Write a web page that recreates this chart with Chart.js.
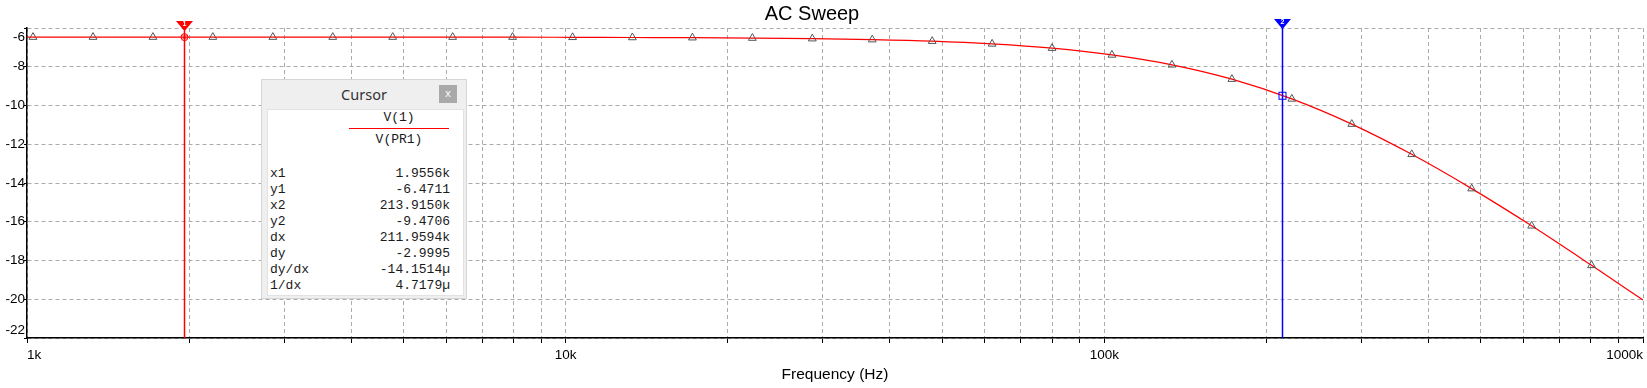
<!DOCTYPE html>
<html><head><meta charset="utf-8">
<script src="https://cdn.jsdelivr.net/npm/chart.js@4.4.1/dist/chart.umd.min.js"></script>
<style>
html,body{margin:0;padding:0;background:#fff;}
#wrap{position:relative;width:1647px;height:388px;overflow:hidden;}
#c{position:absolute;left:0;top:0;}
.abs{position:absolute;white-space:pre;}
.mono{font-family:"Liberation Mono","DejaVu Sans Mono",monospace;font-size:13px;line-height:16px;color:#1a1a1a;}
</style></head><body>
<div id="wrap"><canvas id="c" width="1647" height="388"></canvas><div id="box"></div></div>
<script>
const chartTitle = 'AC Sweep';
const xAxisTitle = 'Frequency (Hz)';
// Trace V(1)/V(PR1) in dB (markers + ends)
const freqHz = [1000, 1026, 1326, 1713, 2213, 2860, 3695, 4774, 6168, 7970,
  10300, 13300, 17190, 22210, 28700, 37080, 47910, 61900, 79980, 103300,
  133500, 172500, 222900, 288000, 372100, 480800, 621200, 802600, 1000000];
const gainDb = [-6.47, -6.47, -6.47, -6.47, -6.47, -6.47, -6.47, -6.47, -6.47, -6.47,
  -6.48, -6.49, -6.50, -6.52, -6.55, -6.60, -6.68, -6.82, -7.04, -7.39,
  -7.90, -8.64, -9.66, -10.96, -12.52, -14.29, -16.21, -18.25, -20.04];
const xTickValues = [1000,2000,3000,4000,5000,6000,7000,8000,9000,
  10000,20000,30000,40000,50000,60000,70000,80000,90000,
  100000,200000,300000,400000,500000,600000,700000,800000,900000,1000000];
const xLabelValues = [1000, 10000, 100000, 1000000];
const xLabelTexts = ['1k', '10k', '100k', '1000k'];
const yTickValues = [-22, -20, -18, -16, -14, -12, -10, -8, -6];
const yTickTexts = ['-22', '-20', '-18', '-16', '-14', '-12', '-10', '-8', '-6'];
const cursorX = [1955.6, 213915];
const cursorY = [-6.4711, -9.4706];
const cursorNames = ['1', '2'];
const cursorColors = ['#ff0000', '#0000ff'];
const traceNames = ['V(1)', 'V(PR1)'];
const readoutLabels = ['x1', 'y1', 'x2', 'y2', 'dx', 'dy', 'dy/dx', '1/dx'];
const readoutValues = ['1.9556k', '-6.4711', '213.9150k', '-9.4706', '211.9594k', '-2.9995', '-14.1514\u00b5', '4.7179\u00b5'];

const FONT = '"Liberation Sans", Arial, sans-serif';

const decor = {
  id: 'decor',
  afterDatasetsDraw(chart) {
    const ctx = chart.ctx, xs = chart.scales.x, ys = chart.scales.y, a = chart.chartArea;
    cursorX.forEach((cx, i) => {
      const px = Math.round(xs.getPixelForValue(cx)) + 0.5;
      const py = ys.getPixelForValue(cursorY[i]);
      const ft = i === 0 ? 21 : 19;
      ctx.save();
      ctx.strokeStyle = cursorColors[i];
      ctx.fillStyle = cursorColors[i];
      ctx.lineWidth = 1.5;
      ctx.beginPath(); ctx.moveTo(px, ft + 8); ctx.lineTo(px, a.bottom); ctx.stroke();
      ctx.beginPath();
      ctx.moveTo(px - 8.5, ft); ctx.lineTo(px + 8.5, ft); ctx.lineTo(px + 1, ft + 9); ctx.lineTo(px - 1, ft + 9); ctx.closePath();
      ctx.fill();
      ctx.fillStyle = '#fff';
      ctx.font = 'bold 7px ' + FONT;
      ctx.textAlign = 'center'; ctx.textBaseline = 'middle';
      ctx.fillText(cursorNames[i], px, ft + 3.5);
      ctx.lineWidth = 1;
      if (i === 0) {
        ctx.beginPath(); ctx.arc(px, py, 3.5, 0, Math.PI * 2); ctx.stroke();
        ctx.beginPath(); ctx.moveTo(px - 2, py - 2); ctx.lineTo(px + 2, py + 2); ctx.moveTo(px + 2, py - 2); ctx.lineTo(px - 2, py + 2); ctx.stroke();
      } else {
        ctx.strokeRect(px - 3.5, py - 3, 7, 7);
      }
      ctx.restore();
    });
  },
  afterDraw(chart) {
    const ctx = chart.ctx, ys = chart.scales.y, a = chart.chartArea;
    ctx.save();
    ctx.fillStyle = '#000';
    ctx.font = '20px ' + FONT;
    ctx.textAlign = 'center'; ctx.textBaseline = 'alphabetic';
    ctx.fillText(chartTitle, 812, 20);
    ctx.font = '13.5px ' + FONT;
    ctx.textAlign = 'right'; ctx.textBaseline = 'middle';
    yTickValues.forEach((v, i) => {
      let y = ys.getPixelForValue(v);
      y = Math.min(Math.max(y, a.top + 9), a.bottom - 8);
      ctx.fillText(yTickTexts[i], 25, y);
    });
    ctx.restore();
  }
};

const gridCommon = { color: '#ababab', lineWidth: 1, tickColor: '#000', tickWidth: 1, tickBorderDash: [], drawOnChartArea: true, drawTicks: true };
const borderCommon = { display: true, color: '#000', width: 1.5, dash: [4, 3] };

new Chart(document.getElementById('c'), {
  type: 'line',
  data: {
    datasets: [{
      data: freqHz.map((f, i) => ({ x: f, y: gainDb[i] })),
      borderColor: '#ff0000',
      borderWidth: 1.2,
      backgroundColor: 'rgba(0,0,0,0)',
      cubicInterpolationMode: 'monotone',
      pointStyle: 'triangle',
      pointRadius: c => (c.dataIndex === 0 || c.dataIndex === freqHz.length - 1) ? 0 : 4.5,
      pointBorderColor: '#555',
      pointBorderWidth: 1,
      pointBackgroundColor: 'rgba(0,0,0,0)',
      pointHoverRadius: 0,
      fill: false
    }]
  },
  options: {
    responsive: false,
    devicePixelRatio: 1,
    animation: false,
    events: [],
    layout: { padding: { left: 0, right: 0, top: 28, bottom: 0 } },
    plugins: { legend: { display: false }, tooltip: { enabled: false }, title: { display: false } },
    scales: {
      x: {
        type: 'logarithmic', min: 1000, max: 1000000,
        afterBuildTicks: s => { s.ticks = xTickValues.map(v => ({ value: v })); },
        afterFit: s => { s.height = 50; },
        ticks: {
          autoSkip: false, maxRotation: 0, minRotation: 0, align: 'inner', padding: 4,
          color: '#000', font: { family: FONT, size: 13.5 },
          callback: v => { const i = xLabelValues.indexOf(v); return i >= 0 ? xLabelTexts[i] : ''; }
        },
        grid: Object.assign({}, gridCommon, { tickLength: 5 }),
        border: borderCommon,
        title: { display: true, text: xAxisTitle, color: '#000', font: { family: FONT, size: 15.5 }, padding: { top: 0, bottom: 4 } }
      },
      y: {
        type: 'linear', min: -22, max: -6,
        afterBuildTicks: s => { s.ticks = yTickValues.map(v => ({ value: v })); },
        afterFit: s => { s.width = 27; },
        ticks: { display: false },
        grid: Object.assign({}, gridCommon, { tickLength: 3 }),
        border: borderCommon
      }
    }
  },
  plugins: [decor]
});

// Cursor readout window
(function () {
  const box = document.getElementById('box');
  let h = '';
  h += '<div class="abs" style="left:261px;top:79px;width:204px;height:218px;background:#efefef;border:1px solid #d6d6d6;"></div>';
  h += '<div class="abs" style="left:261px;top:84px;width:206px;text-align:center;font-family:\'Noto Sans\',\'Open Sans\',sans-serif;font-size:14.5px;line-height:20px;color:#333;">Cursor</div>';
  h += '<div class="abs" style="left:439px;top:85px;width:18px;height:18px;background:#a9a9a9;color:#fff;font-family:Arial,sans-serif;font-size:11px;line-height:17px;text-align:center;">x</div>';
  h += '<div class="abs" style="left:267px;top:109px;width:195px;height:185px;background:#fff;border:1px solid #e2e2e2;"></div>';
  h += '<div class="abs mono" style="left:348px;top:110px;width:102px;text-align:center;">' + traceNames[0] + '</div>';
  h += '<div class="abs" style="left:349px;top:128px;width:100px;height:0;border-top:1.5px solid #ff0000;"></div>';
  h += '<div class="abs mono" style="left:348px;top:132px;width:102px;text-align:center;">' + traceNames[1] + '</div>';
  readoutLabels.forEach((lab, i) => {
    const top = 166 + 16 * i;
    h += '<div class="abs mono" style="left:270px;top:' + top + 'px;">' + lab + '</div>';
    h += '<div class="abs mono" style="left:330px;top:' + top + 'px;width:120px;text-align:right;">' + readoutValues[i] + '</div>';
  });
  box.innerHTML = h;
})();
</script>
</body></html>
